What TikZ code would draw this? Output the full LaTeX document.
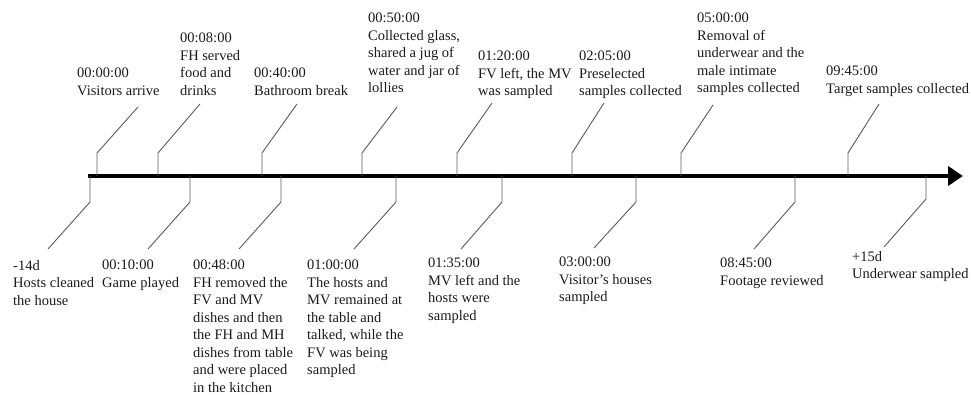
\documentclass[tikz,border=0pt]{standalone}
\usepackage{fontspec}
\setmainfont{Liberation Serif}
\usetikzlibrary{arrows.meta}
\definecolor{ink}{HTML}{1A1A1A}
\definecolor{tickcolor}{HTML}{5A5A5A}
\tikzset{
  eventlabel/.style={
    align=left,
    anchor=north west,
    inner sep=0pt,
    text=ink,
    font=\fontsize{14.5}{17.5}\selectfont
  },
  tickline/.style={draw=tickcolor, line width=0.9pt},
  axisline/.style={-{Triangle[length=15pt,width=19pt]}, line width=4.5pt, draw=black}
}

\begin{document}
\begin{tikzpicture}[x=1pt,y=-1pt]
  \useasboundingbox (0,0) rectangle (971,395);
  % time axis
  \coordinate (axisstart) at (88,176);
  \coordinate (axisend) at (963,176);
  \draw[axisline] (axisstart) -- (axisend);

  % events above the axis
  \node[eventlabel] (arrive) at (77,68) {00:00:00\\Visitors arrive};
  \node[eventlabel] (food) at (180,33) {00:08:00\\FH served\\food and\\drinks};
  \node[eventlabel] (bathroom) at (254,68) {00:40:00\\Bathroom break};
  \node[eventlabel] (glass) at (368,13) {00:50:00\\Collected glass,\\shared a jug of\\water and jar of\\lollies};
  \node[eventlabel] (fvleft) at (478,51) {01:20:00\\FV left, the MV\\was sampled};
  \node[eventlabel] (preselected) at (579,51) {02:05:00\\Preselected\\samples collected};
  \node[eventlabel] (underwear) at (697,13) {05:00:00\\Removal of\\underwear and the\\male intimate\\samples collected};
  \node[eventlabel] (target) at (826,66) {09:45:00\\Target samples collected};

  % events below the axis
  \node[eventlabel] (cleaned) at (13,260) {-14d\\Hosts cleaned\\the house};
  \node[eventlabel] (game) at (102,260) {00:10:00\\Game played};
  \node[eventlabel] (dishes) at (193,260) {00:48:00\\FH removed the\\FV and MV\\dishes and then\\the FH and MH\\dishes from table\\and were placed\\in the kitchen};
  \node[eventlabel] (talked) at (307,260) {01:00:00\\The hosts and\\MV remained at\\the table and\\talked, while the\\FV was being\\sampled};
  \node[eventlabel] (mvleft) at (428,258) {01:35:00\\MV left and the\\hosts were\\sampled};
  \node[eventlabel] (houses) at (559,257) {03:00:00\\Visitor’s houses\\sampled};
  \node[eventlabel] (footage) at (720,258) {08:45:00\\Footage reviewed};
  \node[eventlabel] (plusdays) at (852,251) {+15d\\Underwear sampled};

  % tick feet on the axis and leader tips
  \coordinate (arrive foot) at (97,176);      \coordinate (arrive tip) at (138,107);
  \coordinate (food foot) at (158,176);       \coordinate (food tip) at (200,104);
  \coordinate (bathroom foot) at (262,176);   \coordinate (bathroom tip) at (297,104);
  \coordinate (glass foot) at (362,176);      \coordinate (glass tip) at (397,107);
  \coordinate (fvleft foot) at (457,176);     \coordinate (fvleft tip) at (492,103);
  \coordinate (preselected foot) at (572,176);\coordinate (preselected tip) at (604,103);
  \coordinate (underwear foot) at (681,176);  \coordinate (underwear tip) at (713,105);
  \coordinate (target foot) at (848,176);     \coordinate (target tip) at (879,104);

  \coordinate (cleaned foot) at (90,176);     \coordinate (cleaned tip) at (48,249);
  \coordinate (game foot) at (190,176);       \coordinate (game tip) at (148,249);
  \coordinate (dishes foot) at (281,176);     \coordinate (dishes tip) at (239,249);
  \coordinate (talked foot) at (396,176);     \coordinate (talked tip) at (354,249);
  \coordinate (mvleft foot) at (502,176);     \coordinate (mvleft tip) at (461,249);
  \coordinate (houses foot) at (636,176);     \coordinate (houses tip) at (594,248);
  \coordinate (footage foot) at (795,176);    \coordinate (footage tip) at (754,249);
  \coordinate (plusdays foot) at (926,176);   \coordinate (plusdays tip) at (884,247);

  % leaders
  \foreach \ev in {arrive,food,bathroom,glass,fvleft,preselected,underwear,target}
    \draw[tickline] (\ev\space foot) -- ++(0,-23) -- (\ev\space tip);
  \foreach \ev in {cleaned,game,dishes,talked,mvleft,houses,footage}
    \draw[tickline] (\ev\space foot) -- ++(0,26) -- (\ev\space tip);
  \draw[tickline] (plusdays foot) -- ++(0,23) -- (plusdays tip);
\end{tikzpicture}
\end{document}
